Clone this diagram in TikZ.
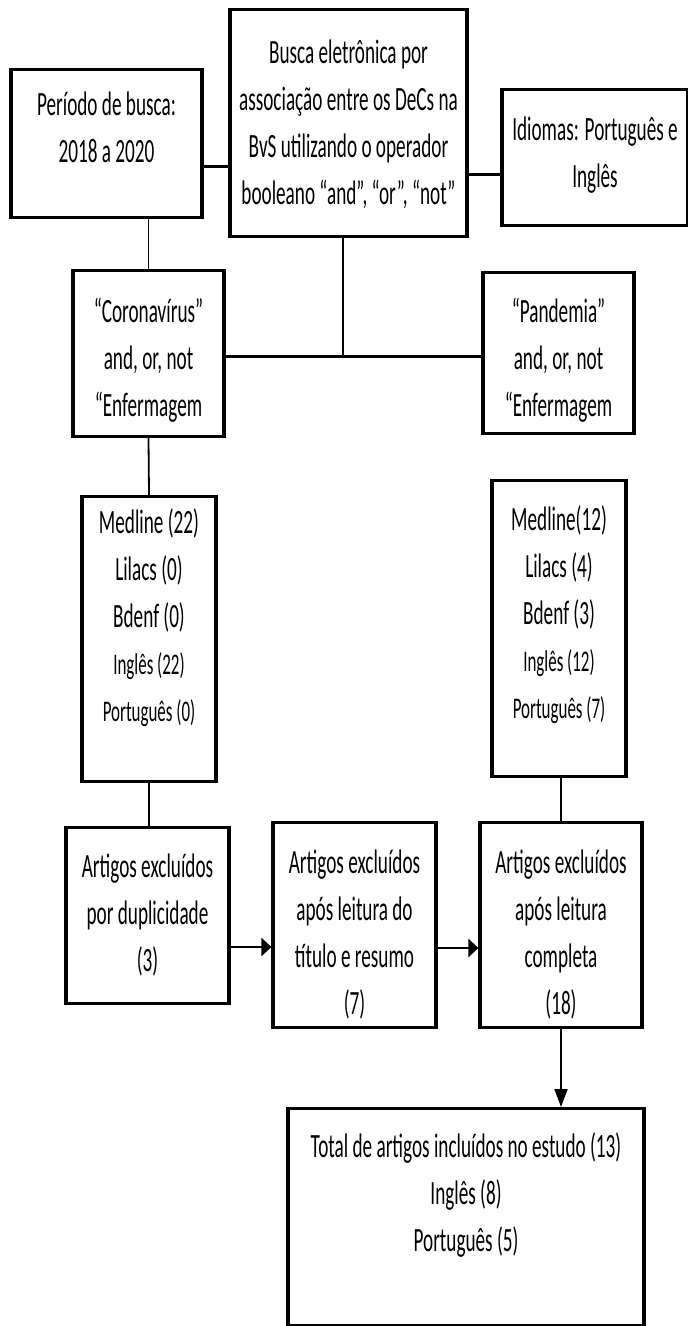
\documentclass[tikz,border=0pt]{standalone}
\usepackage{fontspec}
\setmainfont[FakeStretch=0.565]{Carlito}
\usetikzlibrary{arrows.meta}

\tikzset{
  caixa/.style={draw, rectangle, line width=1.6pt, anchor=north, inner xsep=2pt, inner ysep=0pt,
    align=center, font=\fontsize{17}{23.5}\selectfont},
  fino/.style={line width=0.9pt},
  grosso/.style={line width=1.5pt},
  seta/.style={line width=1.4pt, -{Triangle[length=5pt,width=9pt]}},
  setafina/.style={line width=0.9pt, -{Triangle[length=9pt,width=6.5pt]}},
}
\newcommand{\menor}[1]{{\fontsize{15}{23.5}\selectfont #1}}

\begin{document}
\begin{tikzpicture}[x=0.5pt, y=-0.5pt]
  \fill[white] (0,0) rectangle (688,1326);
  \useasboundingbox (0,0) rectangle (688,1326);

  % Busca
  \node[caixa, minimum width=95.5pt, text height=46.5pt, text depth=27.5pt] (per) at (106.5,68) {Período de busca:\\2018 a 2020};
  \node[caixa, minimum width=118.5pt, text height=97.5pt, text depth=16pt] (bus) at (348.5,8) {Busca eletrônica por\\associação entre os DeCs na\\BvS utilizando o operador\\booleano “and”, “or”, “not”};
  \node[caixa, minimum width=93pt, text height=49pt, text depth=19pt] (idi) at (595,88) {Idiomas: Português e\\Inglês};

  % Descritores
  \node[caixa, minimum width=75.5pt, text height=73pt, text depth=10pt] (cor) at (148.5,269) {“Coronavírus”\\and, or, not\\“Enfermagem};
  \node[caixa, minimum width=75.5pt, text height=72pt, text depth=8.5pt] (pan) at (558.5,271) {“Pandemia”\\and, or, not\\“Enfermagem};

  % Bases
  \node[caixa, minimum width=67pt, text height=112.5pt, text depth=30pt] (med1) at (149,495) {Medline (22)\\Lilacs (0)\\Bdenf (0)\\\menor{Inglês (22)}\\\menor{Português (0)}};
  \node[caixa, minimum width=67pt, text height=119pt, text depth=29pt] (med2) at (559,479) {Medline(12)\\Lilacs (4)\\Bdenf (3)\\\menor{Inglês (12)}\\\menor{Português (7)}};

  % Exclusoes
  \node[caixa, minimum width=81.5pt, text height=72pt, text depth=16pt] (art1) at (147.5,826) {Artigos excluídos\\por duplicidade\\(3)};
  \node[caixa, minimum width=81.5pt, text height=96pt, text depth=6.5pt] (art2) at (354.5,821) {Artigos excluídos\\após leitura do\\título e resumo\\(7)};
  \node[caixa, minimum width=81pt, text height=96pt, text depth=6.5pt] (art3) at (561,821) {Artigos excluídos\\após leitura\\completa\\(18)};

  % Total
  \node[caixa, minimum width=178pt, text height=71.5pt, text depth=37pt] (tot) at (466,1107) {Total de artigos incluídos no estudo (13)\\Inglês (8)\\Português (5)};

  % Ligacoes
  \coordinate (j) at (343,356);
  \draw[grosso] (per.east |- 0,167) -- (bus.west |- 0,167);
  \draw[grosso] (bus.east |- 0,175) -- (idi.west |- 0,175);
  \draw[fino] (cor.north |- per.south) -- (cor.north);
  \draw[fino] (bus.south -| j) -- (j);
  \draw[grosso] (cor.east |- j) -- (pan.west |- j);
  \draw[fino] (cor.south) -- (med1.north);
  \draw[fino] (med1.south) -- (med1.south |- art1.north);
  \draw[fino] (art3.north |- med2.south) -- (art3.north);
  \draw[seta] (art1.east |- 0,947) -- (art2.west |- 0,947);
  \draw[seta] (art2.east |- 0,948) -- (art3.west |- 0,948);
  \draw[setafina] (art3.south) -- (art3.south |- tot.north);
\end{tikzpicture}
\end{document}
